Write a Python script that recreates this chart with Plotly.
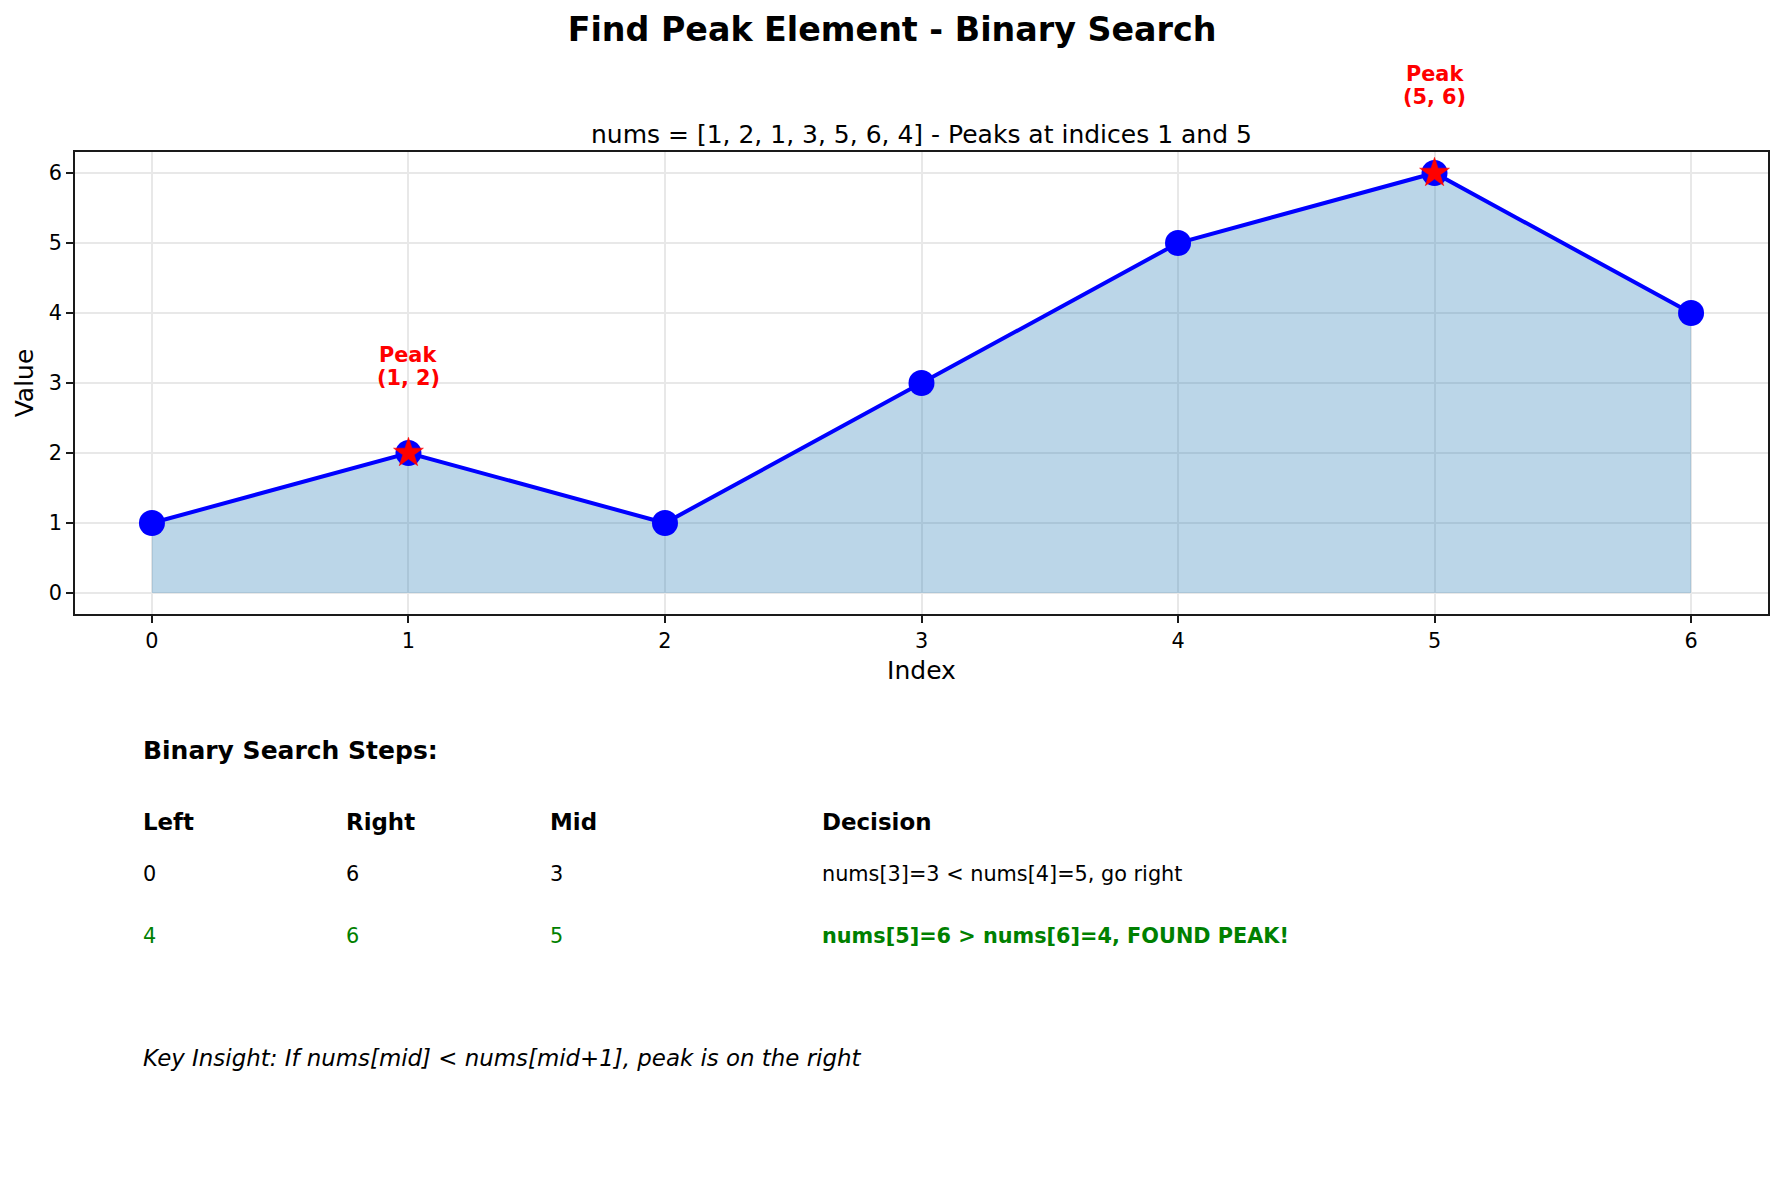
import plotly.graph_objects as go

# ---- data ----
indices = [0, 1, 2, 3, 4, 5, 6]
nums = [1, 2, 1, 3, 5, 6, 4]
peak_indices = [1, 5]
peak_values = [2, 6]

step_left = [0, 4]
step_right = [6, 6]
step_mid = [3, 5]
step_decision = ["nums[3]=3 < nums[4]=5, go right",
                 "nums[5]=6 > nums[6]=4, FOUND PEAK!"]
table_headers = ["Left", "Right", "Mid", "Decision"]

title_text = "Find Peak Element - Binary Search"
subtitle_text = "nums = [1, 2, 1, 3, 5, 6, 4] - Peaks at indices 1 and 5"
steps_title = "Binary Search Steps:"
insight_text = "Key Insight: If nums[mid] < nums[mid+1], peak is on the right"

# ---- layout geometry (pixels) ----
W, H = 1784, 1183
L, R, T, B = 75, 16, 152, 569
PW, PH = W - L - R, H - T - B
FONT = "DejaVu Sans"
Y_RANGE = [-0.3, 6.3]


def px_x(px):
    return (px - L) / PW


def px_y(py):
    return (H - B - py) / PH


def data_y_to_paper(v):
    return (v - Y_RANGE[0]) / (Y_RANGE[1] - Y_RANGE[0])


fig = go.Figure()

# filled area
fig.add_trace(go.Scatter(
    x=indices, y=nums, mode="none", fill="tozeroy",
    fillcolor="rgba(31,119,180,0.3)", hoverinfo="skip", showlegend=False))

# line + markers
fig.add_trace(go.Scatter(
    x=indices, y=nums, mode="lines+markers",
    line=dict(color="#0000ff", width=4),
    marker=dict(color="#0000ff", size=26, line=dict(width=0)),
    showlegend=False))

# peak stars
fig.add_trace(go.Scatter(
    x=peak_indices, y=peak_values, mode="markers",
    marker=dict(symbol="star", color="#ff0000", size=22.5,
                line=dict(color="#ff0000", width=0.5)),
    showlegend=False))

annotations = []

# peak labels (y in paper so labels above the axis range still show)
for pi, pv in zip(peak_indices, peak_values):
    yp = data_y_to_paper(pv + 1)
    annotations.append(dict(x=pi, y=yp, xref="x", yref="paper",
                            text=f"({pi}, {pv})", showarrow=False,
                            xanchor="center", yanchor="middle", yshift=5.5,
                            font=dict(family=FONT, size=20.8, color="#ff0000",
                                      weight="bold")))
    annotations.append(dict(x=pi, y=yp, xref="x", yref="paper",
                            text="Peak", showarrow=False,
                            xanchor="center", yanchor="middle", yshift=28.5,
                            font=dict(family=FONT, size=20.8, color="#ff0000",
                                      weight="bold")))

# subtitle
annotations.append(dict(x=0.5, y=px_y(134), xref="paper", yref="paper",
                        text=subtitle_text, showarrow=False,
                        xanchor="center", yanchor="middle",
                        font=dict(family=FONT, size=25, color="black")))

# steps title
annotations.append(dict(x=px_x(141.2), y=px_y(750), xref="paper", yref="paper",
                        text=steps_title, showarrow=False,
                        xanchor="left", yanchor="middle",
                        font=dict(family=FONT, size=25, color="black",
                                  weight="bold")))

col_x = [141.2, 343.7, 548.2, 819.7]
header_y = 821.5
row_y = [873.5, 936]

for cx, h in zip(col_x, table_headers):
    annotations.append(dict(x=px_x(cx), y=px_y(header_y), xref="paper",
                            yref="paper", text=h, showarrow=False,
                            xanchor="left", yanchor="middle",
                            font=dict(family=FONT, size=22.9, color="black",
                                      weight="bold")))

for k in range(len(step_left)):
    last = (k == len(step_left) - 1)
    color = "#008000" if last else "black"
    vals = [str(step_left[k]), str(step_right[k]), str(step_mid[k])]
    for cx, v in zip(col_x[:3], vals):
        annotations.append(dict(x=px_x(cx), y=px_y(row_y[k]), xref="paper",
                                yref="paper", text=v, showarrow=False,
                                xanchor="left", yanchor="middle",
                                font=dict(family=FONT, size=20.8, color=color)))
    annotations.append(dict(x=px_x(col_x[3]), y=px_y(row_y[k]), xref="paper",
                            yref="paper", text=step_decision[k],
                            showarrow=False, xanchor="left", yanchor="middle",
                            font=dict(family=FONT, size=20.8, color=color,
                                      weight="bold" if last else "normal")))

# key insight
annotations.append(dict(x=px_x(141.2), y=px_y(1058), xref="paper",
                        yref="paper", text=insight_text, showarrow=False,
                        xanchor="left", yanchor="middle",
                        font=dict(family=FONT, size=22.9, color="black",
                                  style="italic")))

axis_common = dict(
    showline=True, linecolor="#1a1a1a", linewidth=1.8, mirror=True,
    ticks="outside", ticklen=7, tickwidth=1.7, tickcolor="#1a1a1a",
    showgrid=True, gridcolor="#e8e8e8", gridwidth=1.6,
    zeroline=False,
    tickfont=dict(family=FONT, size=20.8, color="black"),
)

fig.update_layout(
    width=W, height=H, autosize=False,
    margin=dict(l=L, r=R, t=T, b=B, pad=0),
    paper_bgcolor="white", plot_bgcolor="white",
    title=dict(text=title_text, x=0.5, xref="container", xanchor="center",
               y=1 - 29.6 / H, yref="container", yanchor="middle",
               font=dict(family=FONT, size=33.3, color="black",
                         weight="bold")),
    xaxis=dict(range=[-0.3, 6.3], tickmode="array", tickvals=indices,
               ticktext=[str(i) for i in indices],
               title=dict(text="Index", standoff=10,
                          font=dict(family=FONT, size=25, color="black")),
               **axis_common),
    yaxis=dict(range=Y_RANGE, tickmode="array",
               tickvals=[0, 1, 2, 3, 4, 5, 6],
               title=dict(text="Value", standoff=8,
                          font=dict(family=FONT, size=25, color="black")),
               **axis_common),
    annotations=annotations,
    showlegend=False,
)

fig.write_html("out.html")
